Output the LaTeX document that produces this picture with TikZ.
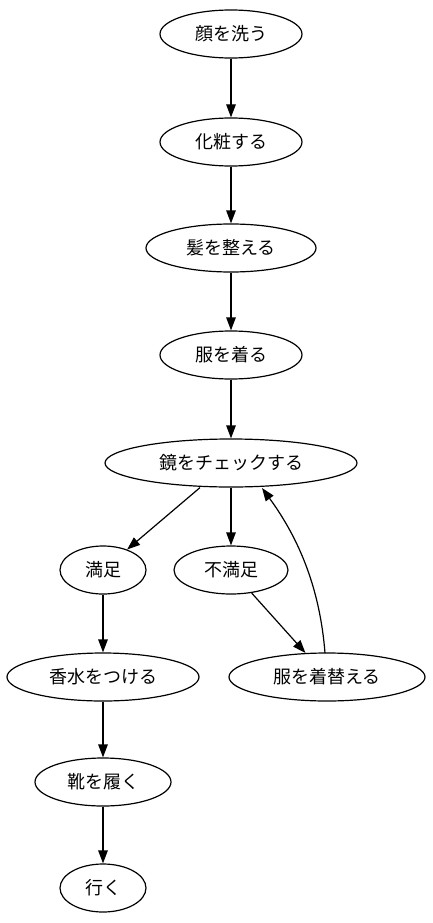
\documentclass[tikz,border=0pt]{standalone}
\usepackage{fontspec}
\newfontfamily\jp{Noto Sans CJK JP}
\usetikzlibrary{arrows.meta,shapes.geometric}
\begin{document}
\begin{tikzpicture}[x=1pt,y=-1pt,
  st/.style={draw,ellipse,line width=1.2pt,inner sep=0pt,font=\jp\fontsize{18}{20}\selectfont},
  arr/.style={line width=1.2pt,-{Triangle[length=13pt,width=9.5pt]}}]
\useasboundingbox (0,0) rectangle (432,923);
\node[st,minimum width=142pt,minimum height=48pt] (a) at (231,34) {顔を洗う};
\node[st,minimum width=142pt,minimum height=48pt] (b) at (231,142) {化粧する};
\node[st,minimum width=170pt,minimum height=48pt] (c) at (231,248) {髪を整える};
\node[st,minimum width=142pt,minimum height=48pt] (d) at (231,355) {服を着る};
\node[st,minimum width=252pt,minimum height=48pt] (e) at (231,463) {鏡をチェックする};
\node[st,minimum width=86pt,minimum height=48pt] (f) at (103,570) {満足};
\node[st,minimum width=114pt,minimum height=48pt] (g) at (231,570) {不満足};
\node[st,minimum width=196pt,minimum height=48pt] (h) at (327,677) {服を着替える};
\node[st,minimum width=192pt,minimum height=48pt] (i) at (103,677) {香水をつける};
\node[st,minimum width=136pt,minimum height=48pt] (j) at (103,782) {靴を履く};
\node[st,minimum width=86pt,minimum height=48pt] (k) at (103,888) {行く};
\draw[arr] (a) -- (b);
\draw[arr] (b) -- (c);
\draw[arr] (c) -- (d);
\draw[arr] (d) -- (e);
\path (e.south) ++(-31,0) coordinate (e1);
\draw[arr] (e1) -- (f);
\draw[arr] (e) -- (g);
\draw[arr] (g) -- (h);
\draw[arr] (f) -- (i);
\draw[arr] (i) -- (j);
\draw[arr] (j) -- (k);
\coordinate (h1) at (325,653);
\coordinate (e2) at (262,488);
\draw[arr] (h1) .. controls (320,590) and (300,540) .. (e2);
\end{tikzpicture}
\end{document}
